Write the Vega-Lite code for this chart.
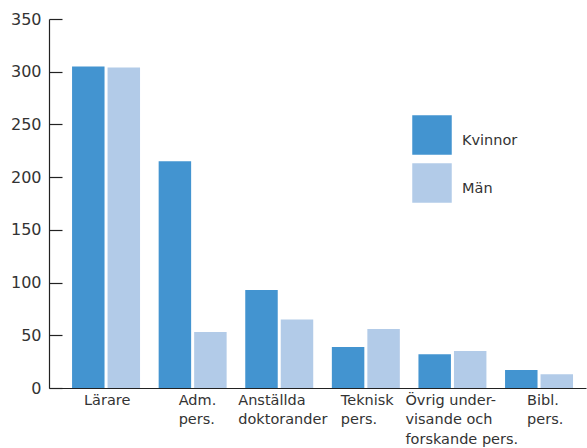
{
  "$schema": "https://vega.github.io/schema/vega-lite/v6.json",
  "autosize": {"type": "none"},
  "padding": {"left": 49, "top": 19, "right": 1, "bottom": 60},
  "width": 537,
  "height": 369,
  "background": "white",
  "config": {
    "view": {"stroke": null},
    "font": "DejaVu Sans",
    "axis": {"labelFont": "DejaVu Sans", "labelColor": "#333333", "domainColor": "#222222", "tickColor": "#222222", "grid": false, "title": null}
  },
  "data": {
    "values": [
      {"kategori": "Lärare", "kön": "Kvinnor", "antal": 305},
      {"kategori": "Lärare", "kön": "Män", "antal": 304},
      {"kategori": "Adm. pers.", "kön": "Kvinnor", "antal": 215},
      {"kategori": "Adm. pers.", "kön": "Män", "antal": 53},
      {"kategori": "Anställda doktorander", "kön": "Kvinnor", "antal": 93},
      {"kategori": "Anställda doktorander", "kön": "Män", "antal": 65},
      {"kategori": "Teknisk pers.", "kön": "Kvinnor", "antal": 39},
      {"kategori": "Teknisk pers.", "kön": "Män", "antal": 56},
      {"kategori": "Övrig undervisande och forskande pers.", "kön": "Kvinnor", "antal": 32},
      {"kategori": "Övrig undervisande och forskande pers.", "kön": "Män", "antal": 35},
      {"kategori": "Bibl. pers.", "kön": "Kvinnor", "antal": 17},
      {"kategori": "Bibl. pers.", "kön": "Män", "antal": 13}
    ]
  },
  "mark": {"type": "bar"},
  "encoding": {
    "x": {
      "field": "kategori",
      "type": "nominal",
      "sort": null,
      "scale": {"paddingInner": 0.215, "paddingOuter": 0.208, "align": 0.64},
      "axis": {
        "labelAngle": 0,
        "ticks": false,
        "domainWidth": 1.2,
        "labelFontSize": 14.5,
        "labelLineHeight": 19.5,
        "labelPadding": 5,
        "labelAlign": "left",
        "labelBaseline": "top",
        "labelLimit": 0,
        "labelExpr": "datum.label == 'Adm. pers.' ? ['Adm.', 'pers.'] : datum.label == 'Anställda doktorander' ? ['Anställda', 'doktorander'] : datum.label == 'Teknisk pers.' ? ['Teknisk', 'pers.'] : datum.label == 'Övrig undervisande och forskande pers.' ? ['Övrig under-', 'visande och', 'forskande pers.'] : datum.label == 'Bibl. pers.' ? ['Bibl.', 'pers.'] : datum.label",
        "labelOffset": {
          "condition": [
            {"test": "datum.value == 'Lärare'", "value": -22},
            {"test": "datum.value == 'Adm. pers.'", "value": -14},
            {"test": "datum.value == 'Anställda doktorander'", "value": -41},
            {"test": "datum.value == 'Teknisk pers.'", "value": -25},
            {"test": "datum.value == 'Bibl. pers.'", "value": -12}
          ],
          "value": -47
        }
      }
    },
    "xOffset": {"field": "kön", "type": "nominal", "scale": {"paddingInner": 0.085}},
    "y": {
      "field": "antal",
      "type": "quantitative",
      "scale": {"domain": [0, 350], "nice": false},
      "axis": {
        "values": [0, 50, 100, 150, 200, 250, 300, 350],
        "tickSize": -13,
        "tickWidth": 1.2,
        "domainWidth": 1.2,
        "labelFontSize": 16,
        "labelPadding": 21
      }
    },
    "color": {
      "field": "kön",
      "type": "nominal",
      "scale": {"domain": ["Kvinnor", "Män"], "range": ["#4394d0", "#b2cbe8"]},
      "legend": {
        "title": null,
        "orient": "none",
        "legendX": 363,
        "legendY": 96,
        "symbolType": "square",
        "symbolSize": 1560,
        "symbolStrokeWidth": 0,
        "symbolOpacity": 1,
        "rowPadding": 8,
        "labelOffset": 10,
        "labelFontSize": 14.5,
        "labelColor": "#333333",
        "labelFont": "DejaVu Sans",
        "encode": {"labels": {"update": {"dy": {"value": 6}}}}
      }
    }
  }
}
